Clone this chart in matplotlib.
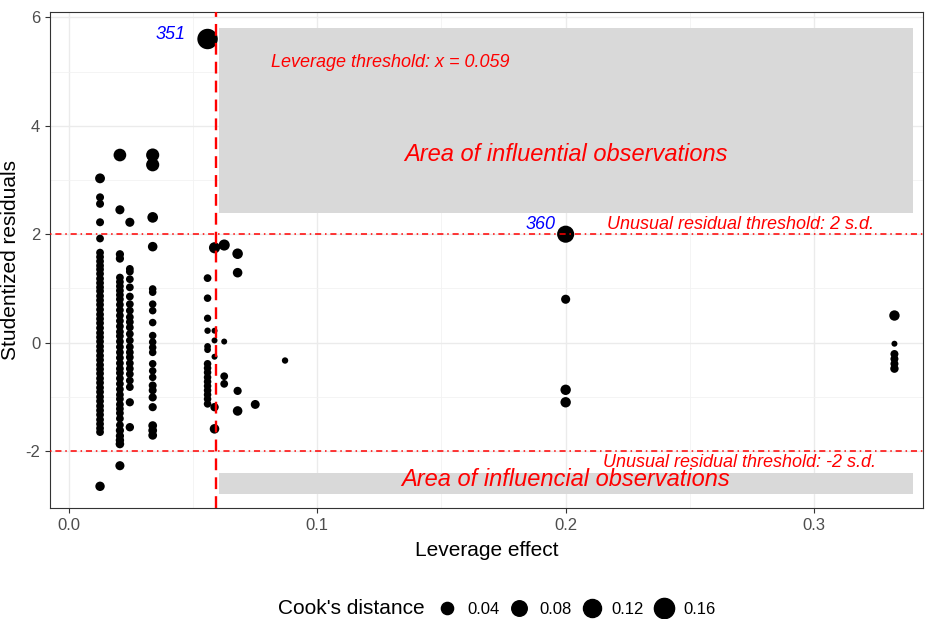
import matplotlib
matplotlib.use("Agg")
import matplotlib.pyplot as plt
from matplotlib.lines import Line2D
from matplotlib.patches import Rectangle
import numpy as np

plt.rcParams['font.family'] = ['Liberation Sans', 'DejaVu Sans']
plt.rcParams['axes.unicode_minus'] = False

# leverage (hat value) of each group of observations
lev_a = 0.0125
lev_b = 0.0205
lev_c = 0.0245
lev_d = 0.0337
lev_e = 0.0558
lev_f = 0.0586
lev_g = 0.0625
lev_h = 0.0679
lev_i = 0.0750
lev_j = 0.0870
lev_k = 0.2000
lev_l = 0.3324

# studentized residuals and Cook's distance per group
res_a = [3.03, 2.68, 2.56, 2.22, 1.92, 1.66, 1.58, 1.50, 1.42, 1.35, 1.27, 1.18,
         1.10, 1.02, 0.95, 0.86, 0.78, 0.70, 0.61, 0.52, 0.44, 0.36, 0.27, 0.18,
         0.10, 0.02, -0.07, -0.15, -0.24, -0.32, -0.41, -0.49, -0.57, -0.66,
         -0.74, -0.83, -0.91, -1.00, -1.08, -1.17, -1.25, -1.33, -1.42, -1.50,
         -1.58, -1.65, -2.65]
cook_a = [0.020, 0.009, 0.009, 0.009, 0.008] + [0.008] * 41 + [0.017]

res_b = [3.46, 2.45, 1.63, 1.55, 1.20, 1.12, 1.04, 0.96, 0.88, 0.80, 0.70, 0.60,
         0.50, 0.40, 0.30, 0.20, 0.12, 0.02, -0.08, -0.18, -0.28, -0.38, -0.48,
         -0.56, -0.66, -0.76, -0.86, -0.96, -1.04, -1.14, -1.22, -1.30, -1.40,
         -1.52, -1.62, -1.72, -1.80, -1.87, -2.27]
cook_b = [0.045, 0.015, 0.010, 0.010] + [0.008] * 30 + [0.010, 0.010, 0.011, 0.012, 0.015]

res_c = [2.22, 1.36, 1.31, 1.17, 1.02, 0.85, 0.71, 0.59, 0.47, 0.38, 0.28, 0.16,
         0.04, -0.08, -0.18, -0.27, -0.38, -0.48, -0.58, -0.70, -0.82, -1.10, -1.56]
cook_c = [0.015] + [0.008] * 20 + [0.010, 0.011]

res_d = [3.46, 3.28, 2.31, 1.77, 0.99, 0.93, 0.71, 0.59, 0.37, 0.13, 0.01, -0.09,
         -0.18, -0.39, -0.52, -0.64, -0.79, -0.88, -1.01, -1.19, -1.53, -1.62, -1.71]
cook_d = [0.050, 0.050, 0.026, 0.018] + [0.007] * 12 + [0.009, 0.009, 0.010, 0.010,
                                                        0.013, 0.013, 0.013]

res_e = [5.60, 1.19, 0.82, 0.45, 0.22, -0.07, -0.13, -0.39, -0.47, -0.55, -0.64,
         -0.72, -0.80, -0.88, -0.96, -1.04, -1.13]
cook_e = [0.165, 0.008, 0.007, 0.006, 0.003, 0.004, 0.004] + [0.007] * 10

res_f = [1.75, 0.22, 0.04, -0.26, -1.19, -1.59]
cook_f = [0.030, 0.002, 0.002, 0.002, 0.011, 0.018]

res_g = [1.80, 0.02, -0.62, -0.76]
cook_g = [0.030, 0.002, 0.008, 0.008]

res_h = [1.64, 1.29, -0.89, -1.26]
cook_h = [0.025, 0.018, 0.010, 0.018]

res_i = [-1.14]
cook_i = [0.014]

res_j = [-0.33]
cook_j = [0.003]

res_k = [2.00, 0.80, -0.87, -1.10]
cook_k = [0.104, 0.015, 0.024, 0.024]

res_l = [0.50, -0.02, -0.21, -0.30, -0.39, -0.48]
cook_l = [0.024, 0.002, 0.009, 0.009, 0.009, 0.011]

groups = [
    (lev_a, res_a, cook_a), (lev_b, res_b, cook_b), (lev_c, res_c, cook_c),
    (lev_d, res_d, cook_d), (lev_e, res_e, cook_e), (lev_f, res_f, cook_f),
    (lev_g, res_g, cook_g), (lev_h, res_h, cook_h), (lev_i, res_i, cook_i),
    (lev_j, res_j, cook_j), (lev_k, res_k, cook_k), (lev_l, res_l, cook_l),
]

leverage = np.concatenate([[lev] * len(r) for lev, r, c in groups])
rstudent = np.concatenate([r for lev, r, c in groups])
cooks = np.concatenate([c for lev, r, c in groups])

# labelled observations: (id, leverage, residual)
labelled = [("351", lev_e, 5.60), ("360", lev_k, 2.00)]
label_offsets = [(-16, 3), (-7, 7)]

lev_threshold = 0.059
legend_breaks = [0.04, 0.08, 0.12, 0.16]
cook_max = 0.17


def point_diameter(d):
    # area-style size scale, returns diameter in points
    px = 4.2 + 16.5 * np.sqrt(np.asarray(d) / cook_max)
    return px * 0.72


fig = plt.figure(figsize=(9.25, 6.19), dpi=100)
ax = fig.add_axes([50 / 925, 1 - 508 / 619, 873 / 925, (508 - 12) / 619])

ax.set_xlim(-0.00765, 0.3439)
ax.set_ylim(-3.05, 6.098)

# grid like theme_bw
ax.set_xticks([0.0, 0.1, 0.2, 0.3])
ax.set_xticklabels(["0.0", "0.1", "0.2", "0.3"])
ax.set_xticks([0.05, 0.15, 0.25], minor=True)
ax.set_yticks([-2, 0, 2, 4, 6])
ax.set_yticks([-1, 1, 3, 5], minor=True)
ax.grid(True, which='major', color='#EBEBEB', lw=1.0, zorder=0)
ax.grid(True, which='minor', color='#F2F2F2', lw=0.6, zorder=0)
ax.set_axisbelow(True)
for side in ax.spines.values():
    side.set_color('#333333')
    side.set_linewidth(0.8)
ax.tick_params(which='major', length=3.5, width=0.8, color='#333333',
               labelcolor='#4D4D4D', labelsize=12)
ax.tick_params(which='minor', length=0)

# shaded regions of influential observations
ax.add_patch(Rectangle((0.0605, 2.4), 0.34 - 0.0605, 5.8 - 2.4,
                       facecolor='#D9D9D9', edgecolor='none', zorder=1))
ax.add_patch(Rectangle((0.0605, -2.8), 0.34 - 0.0605, 0.4,
                       facecolor='#D9D9D9', edgecolor='none', zorder=1))

ax.scatter(leverage, rstudent, s=point_diameter(cooks) ** 2, color='black',
           edgecolors='none', zorder=3)

# thresholds
ax.axvline(lev_threshold, color='red', lw=1.7, ls=(0, (5, 3)), zorder=4)
ax.axhline(2, color='red', lw=1.1, ls=(0, (1, 2.5, 4, 2.5)), zorder=4)
ax.axhline(-2, color='red', lw=1.1, ls=(0, (1, 2.5, 4, 2.5)), zorder=4)

red_font = dict(color='red', style='italic')
ax.text(0.0813, 5.17, "Leverage threshold: x = 0.059", ha='left', va='center',
        fontsize=13, zorder=5, **red_font)
ax.text(0.2, 3.475, "Area of influential observations", ha='center', va='center',
        fontsize=17, zorder=5, **red_font)
ax.text(0.2, -2.53, "Area of influencial observations", ha='center', va='center',
        fontsize=17, zorder=5, **red_font)
ax.text(0.2704, 2.17, "Unusual residual threshold: 2 s.d.", ha='center',
        va='center', fontsize=13, zorder=5, **red_font)
ax.text(0.2702, -2.21, "Unusual residual threshold: -2 s.d.", ha='center',
        va='center', fontsize=13, zorder=5, **red_font)

for (name, lx, ly), off in zip(labelled, label_offsets):
    ax.annotate(name, (lx, ly), xytext=off, textcoords='offset points',
                ha='right', va='center', color='blue', style='italic',
                fontsize=13, zorder=5)

ax.set_xlabel("Leverage effect", fontsize=15, labelpad=6)
ax.set_ylabel("Studentized residuals", fontsize=15, labelpad=4)

# size legend at the bottom
fig.text(278 / 925, 1 - 609 / 619, "Cook's distance", fontsize=15,
         ha='left', va='center')
handles = [Line2D([], [], ls='', marker='o', color='black',
                  markersize=point_diameter(b)) for b in legend_breaks]
fig.legend(handles, [f"{b:.2f}" for b in legend_breaks], ncol=4, frameon=False,
           loc='center left', bbox_to_anchor=(437 / 925, 1 - 609 / 619),
           fontsize=12, handlelength=1.2, handletextpad=0.6,
           columnspacing=0.6, borderpad=0, borderaxespad=0)

fig.savefig("out.png", dpi=100, facecolor='white')
